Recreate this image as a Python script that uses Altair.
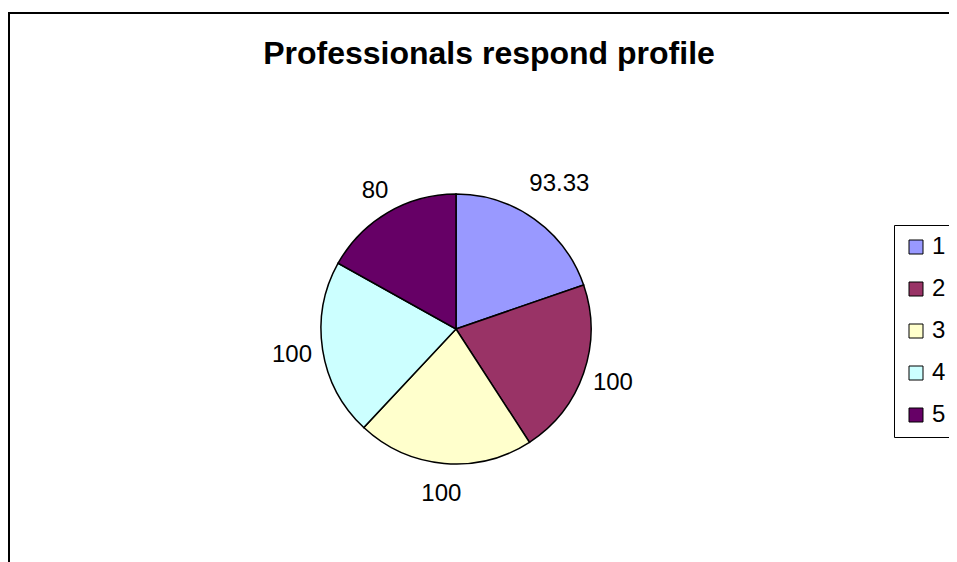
import altair as alt
import pandas as pd

title_text = "Professionals respond profile"
cats = ["1", "2", "3", "4", "5"]
vals = [93.33, 100, 100, 100, 80]
labels = ["93.33", "100", "100", "100", "80"]
colors = ["#9999FF", "#993366", "#FFFFCC", "#CCFFFF", "#660066"]

df = pd.DataFrame({"cat": cats, "v": vals, "lab": labels, "ord": list(range(len(cats)))})

FONT = "Liberation Sans"
CX, CY = 447, 316
W, H = 940, 560

frame = alt.Chart(pd.DataFrame({"f": [0]})).mark_rect(
    stroke="black", strokeWidth=2, fillOpacity=0
).encode(
    x=alt.value(0), x2=alt.value(W + 20), y=alt.value(0), y2=alt.value(H + 20)
)

pie = alt.Chart(df).mark_arc(outerRadius=135, stroke="black", strokeWidth=1.5).encode(
    theta=alt.Theta("v:Q", stack=True),
    order=alt.Order("ord:Q"),
    x=alt.value(CX),
    y=alt.value(CY),
    color=alt.Color(
        "cat:N",
        scale=alt.Scale(domain=cats, range=colors),
        legend=alt.Legend(
            title=None,
            orient="none",
            legendX=885,
            legendY=212,
            strokeColor="black",
            padding=10,
            symbolType="square",
            symbolSize=196,
            symbolStrokeColor="black",
            symbolStrokeWidth=1,
            symbolOpacity=1,
            labelFontSize=24,
            labelFont=FONT,
            labelColor="black",
            labelOffset=4,
            rowPadding=18,
        ),
    ),
)

text = alt.Chart(df).transform_window(
    cum="sum(v)", sort=[alt.SortField("ord")], frame=[None, 0]
).transform_calculate(
    mid="datum.cum - datum.v / 2",
    r="148 + 6 * length(datum.lab)",
).mark_text(fontSize=24, font=FONT, color="black").encode(
    theta=alt.Theta("mid:Q", stack=None),
    x=alt.value(CX),
    y=alt.value(CY),
    radius=alt.Radius("r:Q", scale=None),
    text="lab:N",
)

title = alt.Chart(pd.DataFrame({"t": [title_text]})).mark_text(
    fontSize=32, font=FONT, fontWeight="bold", color="black", baseline="alphabetic", align="center"
).encode(text="t:N", x=alt.value(480), y=alt.value(51))

chart = alt.layer(frame, pie, text, title).properties(
    width=W,
    height=H,
    padding={"left": 1, "top": 5, "right": 0, "bottom": 0},
    autosize=alt.AutoSizeParams(type="none"),
).configure_view(stroke=None, strokeWidth=0)

chart.save("out.html", embed_options={"renderer": "svg", "actions": False})
